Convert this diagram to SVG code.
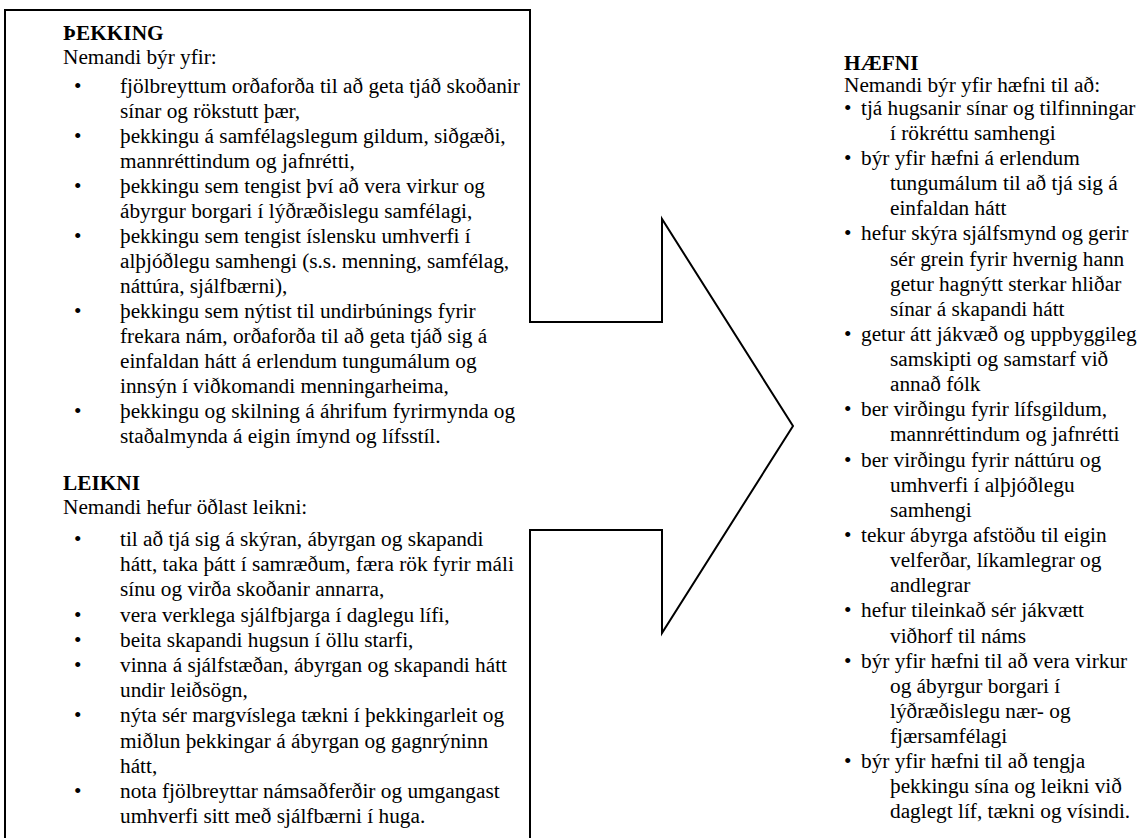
<svg xmlns="http://www.w3.org/2000/svg" width="1142" height="838" viewBox="0 0 1142 838">
<style>
  .t { font-family: "Liberation Serif", "Times New Roman", serif; font-size: 21.3px; fill: #000; }
  .h { font-family: "Liberation Serif", "Times New Roman", serif; font-size: 21.3px; font-weight: bold; fill: #000; }
  .shape { fill: #fff; stroke: #000; stroke-width: 2; stroke-linejoin: miter; }
</style>
<rect x="0" y="0" width="1142" height="838" fill="#fff"/>
<g id="callout">
  <path class="shape" d="M5,10 H530 V322 H662 V219 L793,426 L662,633 V530 H530 V842 H5 Z"/>
</g>
<g id="connectors"></g>
<g id="thekking">
  <text class="h" x="63" y="40">ÞEKKING</text>
  <text class="t" x="63" y="64">Nemandi býr yfir:</text>
  <text class="t" x="74" y="93">•</text><text class="t" x="120" y="93">fjölbreyttum orðaforða til að geta tjáð skoðanir</text>
  <text class="t" x="120" y="118">sínar og rökstutt þær,</text>
  <text class="t" x="74" y="143">•</text><text class="t" x="120" y="143">þekkingu á samfélagslegum gildum, siðgæði,</text>
  <text class="t" x="120" y="168">mannréttindum og jafnrétti,</text>
  <text class="t" x="74" y="193">•</text><text class="t" x="120" y="193">þekkingu sem tengist því að vera virkur og</text>
  <text class="t" x="120" y="218">ábyrgur borgari í lýðræðislegu samfélagi,</text>
  <text class="t" x="74" y="243">•</text><text class="t" x="120" y="243">þekkingu sem tengist íslensku umhverfi í</text>
  <text class="t" x="120" y="268">alþjóðlegu samhengi (s.s. menning, samfélag,</text>
  <text class="t" x="120" y="293">náttúra, sjálfbærni),</text>
  <text class="t" x="74" y="318">•</text><text class="t" x="120" y="318">þekkingu sem nýtist til undirbúnings fyrir</text>
  <text class="t" x="120" y="343">frekara nám, orðaforða til að geta tjáð sig á</text>
  <text class="t" x="120" y="368">einfaldan hátt á erlendum tungumálum og</text>
  <text class="t" x="120" y="393">innsýn í viðkomandi menningarheima,</text>
  <text class="t" x="74" y="418">•</text><text class="t" x="120" y="418">þekkingu og skilning á áhrifum fyrirmynda og</text>
  <text class="t" x="120" y="443">staðalmynda á eigin ímynd og lífsstíl.</text>
</g>
<g id="leikni">
  <text class="h" x="63" y="490">LEIKNI</text>
  <text class="t" x="63" y="514">Nemandi hefur öðlast leikni:</text>
  <text class="t" x="74" y="546">•</text><text class="t" x="120" y="546">til að tjá sig á skýran, ábyrgan og skapandi</text>
  <text class="t" x="120" y="571">hátt, taka þátt í samræðum, færa rök fyrir máli</text>
  <text class="t" x="120" y="596">sínu og virða skoðanir annarra,</text>
  <text class="t" x="74" y="622">•</text><text class="t" x="120" y="622">vera verklega sjálfbjarga í daglegu lífi,</text>
  <text class="t" x="74" y="647">•</text><text class="t" x="120" y="647">beita skapandi hugsun í öllu starfi,</text>
  <text class="t" x="74" y="672">•</text><text class="t" x="120" y="672">vinna á sjálfstæðan, ábyrgan og skapandi hátt</text>
  <text class="t" x="120" y="697">undir leiðsögn,</text>
  <text class="t" x="74" y="722">•</text><text class="t" x="120" y="722">nýta sér margvíslega tækni í þekkingarleit og</text>
  <text class="t" x="120" y="748">miðlun þekkingar á ábyrgan og gagnrýninn</text>
  <text class="t" x="120" y="773">hátt,</text>
  <text class="t" x="74" y="798">•</text><text class="t" x="120" y="798">nota fjölbreyttar námsaðferðir og umgangast</text>
  <text class="t" x="120" y="823">umhverfi sitt með sjálfbærni í huga.</text>
</g>
<g id="haefni">
  <text class="h" x="844" y="70">HÆFNI</text>
  <text class="t" x="844" y="92">Nemandi býr yfir hæfni til að:</text>
  <text class="t" x="844" y="115">•</text><text class="t" x="861" y="115">tjá hugsanir sínar og tilfinningar</text>
  <text class="t" x="890" y="140">í rökréttu samhengi</text>
  <text class="t" x="844" y="165">•</text><text class="t" x="861" y="165">býr yfir hæfni á erlendum</text>
  <text class="t" x="890" y="190">tungumálum til að tjá sig á</text>
  <text class="t" x="890" y="215">einfaldan hátt</text>
  <text class="t" x="844" y="240">•</text><text class="t" x="861" y="240">hefur skýra sjálfsmynd og gerir</text>
  <text class="t" x="890" y="266">sér grein fyrir hvernig hann</text>
  <text class="t" x="890" y="291">getur hagnýtt sterkar hliðar</text>
  <text class="t" x="890" y="316">sínar á skapandi hátt</text>
  <text class="t" x="844" y="341">•</text><text class="t" x="861" y="341">getur átt jákvæð og uppbyggileg</text>
  <text class="t" x="890" y="366">samskipti og samstarf við</text>
  <text class="t" x="890" y="391">annað fólk</text>
  <text class="t" x="844" y="416">•</text><text class="t" x="861" y="416">ber virðingu fyrir lífsgildum,</text>
  <text class="t" x="890" y="441">mannréttindum og jafnrétti</text>
  <text class="t" x="844" y="467">•</text><text class="t" x="861" y="467">ber virðingu fyrir náttúru og</text>
  <text class="t" x="890" y="492">umhverfi í alþjóðlegu</text>
  <text class="t" x="890" y="517">samhengi</text>
  <text class="t" x="844" y="542">•</text><text class="t" x="861" y="542">tekur ábyrga afstöðu til eigin</text>
  <text class="t" x="890" y="567">velferðar, líkamlegrar og</text>
  <text class="t" x="890" y="592">andlegrar</text>
  <text class="t" x="844" y="617">•</text><text class="t" x="861" y="617">hefur tileinkað sér jákvætt</text>
  <text class="t" x="890" y="643">viðhorf til náms</text>
  <text class="t" x="844" y="668">•</text><text class="t" x="861" y="668">býr yfir hæfni til að vera virkur</text>
  <text class="t" x="890" y="693">og ábyrgur borgari í</text>
  <text class="t" x="890" y="718">lýðræðislegu nær- og</text>
  <text class="t" x="890" y="743">fjærsamfélagi</text>
  <text class="t" x="844" y="768">•</text><text class="t" x="861" y="768">býr yfir hæfni til að tengja</text>
  <text class="t" x="890" y="793">þekkingu sína og leikni við</text>
  <text class="t" x="890" y="818">daglegt líf, tækni og vísindi.</text>
</g>
</svg>
